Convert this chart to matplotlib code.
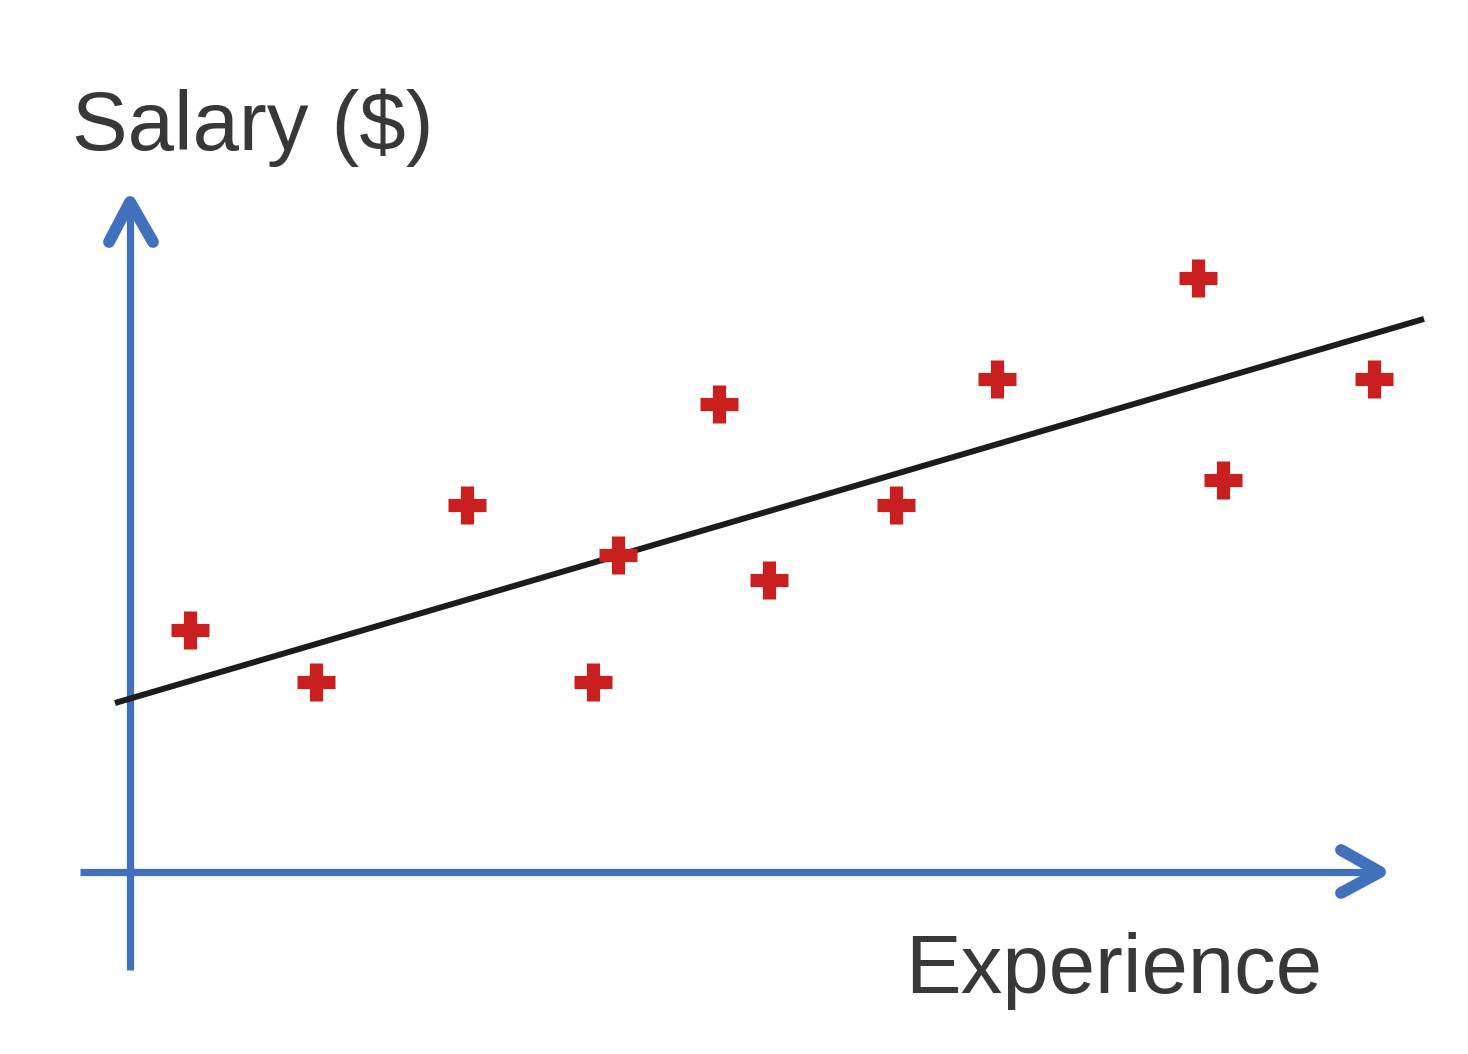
import matplotlib
matplotlib.use("Agg")
import matplotlib.pyplot as plt
import numpy as np

# Data: experience (years) and salary ($)
experience = [1.2, 3.72, 6.74, 9.26, 9.76, 11.78, 12.78, 15.32, 17.34, 21.36, 21.86, 24.88]
salary = [24200, 19000, 36700, 19000, 31700, 46800, 29200, 36700, 49300, 59400, 39200, 49300]

# Regression line: salary = intercept + slope * experience
line_intercept = 17340
line_slope = 1467
line_x = [-0.3, 25.88]

fig = plt.figure(figsize=(14.68, 10.54), dpi=100)
ax = fig.add_axes([0, 0, 1, 1])
ax.set_xlim(-2.6, 26.76)
ax.set_ylim(-18200, 87200)
ax.axis("off")

blue = "#4171BD"
axis_lw = 5.2
head_lw = 8.5

# Axes lines
ax.plot([0, 0], [-9800, 66500], color=blue, lw=axis_lw, solid_capstyle="butt", zorder=1)
ax.plot([-1, 24.9], [0, 0], color=blue, lw=axis_lw, solid_capstyle="butt", zorder=1)
# Arrowheads (chevrons)
ax.plot([-0.42, 0.0, 0.46], [63000, 67000, 63000], color=blue, lw=head_lw,
        solid_capstyle="round", solid_joinstyle="round", zorder=1)
ax.plot([24.22, 25.0, 24.22], [2200, 0, -2100], color=blue, lw=head_lw,
        solid_capstyle="round", solid_joinstyle="round", zorder=1)

# Regression line
lx = np.array(line_x)
ax.plot(lx, line_intercept + line_slope * lx, color="#1c1c1c", lw=4.3,
        solid_capstyle="butt", zorder=2)

# Points
ax.plot(experience, salary, linestyle="none", marker="+", markersize=27,
        markeredgecolor="#C91F1F", markeredgewidth=9.5, zorder=3)

# Labels
ax.text(-1.16, 72200, "Salary ($)", fontsize=60, family="Liberation Sans",
        color="#383838", ha="left", va="baseline")
ax.text(15.5, -12100, "Experience", fontsize=60, family="Liberation Sans",
        color="#383838", ha="left", va="baseline")

fig.savefig("out.png", dpi=100)
